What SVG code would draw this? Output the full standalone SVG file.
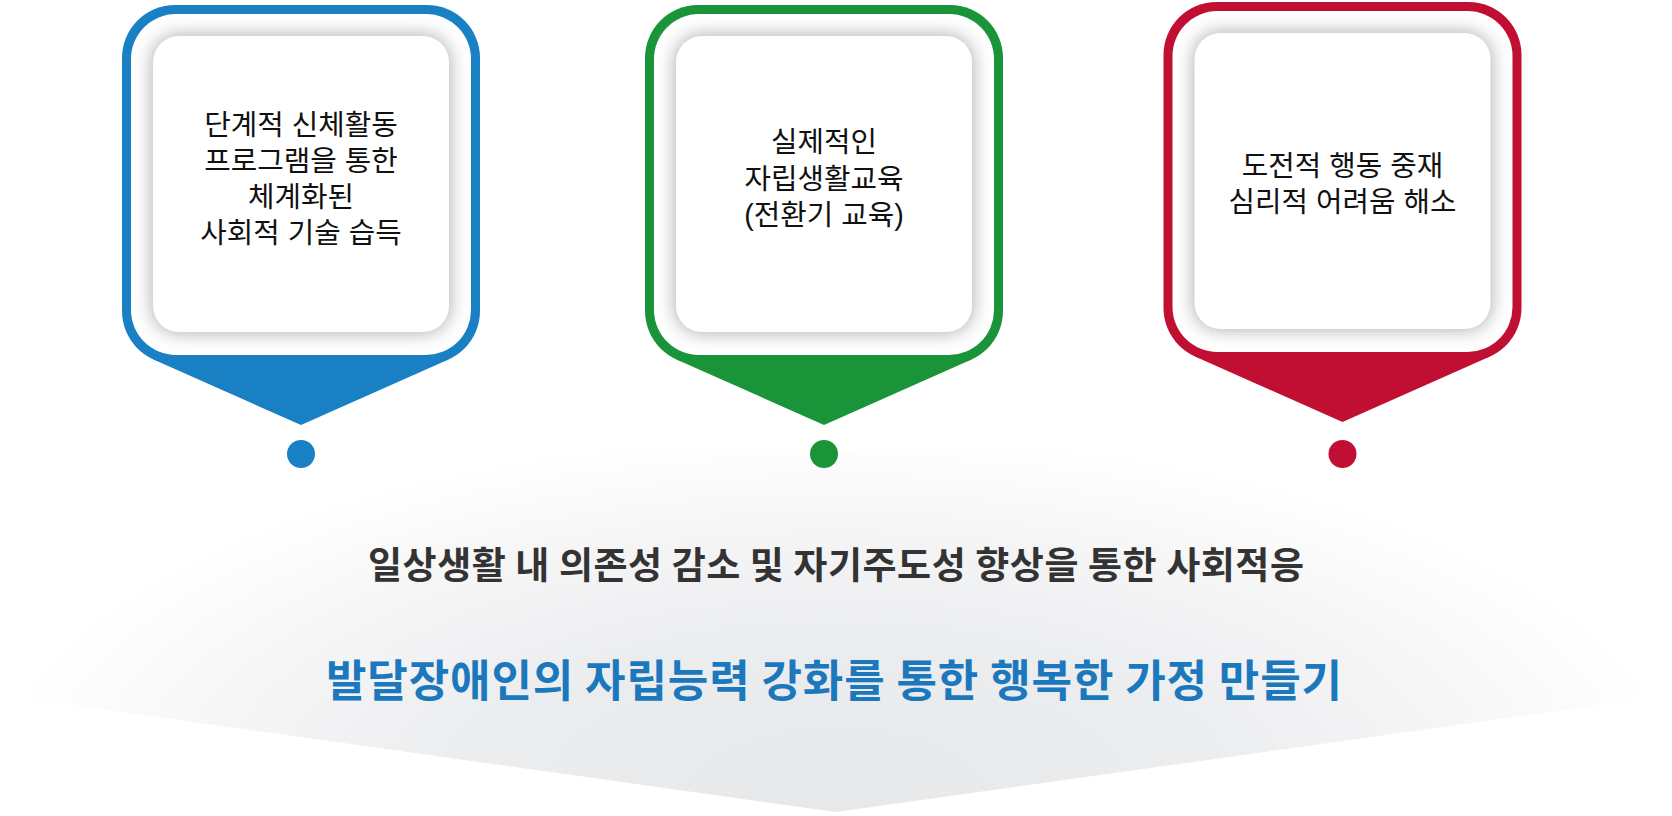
<svg xmlns="http://www.w3.org/2000/svg" width="1672" height="816" viewBox="0 0 1672 816">
  <defs>
    <style>
      .card-text { font-family: 'Liberation Sans', 'Noto Sans CJK KR', sans-serif; font-size: 28.8px; fill: #111111; text-anchor: middle; }
      .sub-text { font-family: 'Noto Sans CJK KR', 'Noto Sans', sans-serif; font-size: 37px; font-weight: 700; fill: #333333; text-anchor: middle; }
      .main-text { font-family: 'Noto Sans CJK KR', 'Noto Sans', sans-serif; font-size: 44px; font-weight: 700; fill: #1c78bd; text-anchor: middle; }
      .interior { fill: #ffffff; }
      .inner { fill: #ffffff; }
      .shadow { fill: #b5b5b5; filter: url(#blur); }
      .blue { fill: #1a80c4; }
      .green { fill: #1a9439; }
      .red { fill: #c10f33; }
    </style>
    <filter id="blur" x="-20%" y="-20%" width="140%" height="140%">
      <feGaussianBlur stdDeviation="8.5"/>
    </filter>
    <radialGradient id="bgGrad" gradientUnits="userSpaceOnUse" cx="836" cy="790" r="850" gradientTransform="translate(836 790) scale(1 0.42) translate(-836 -790)">
      <stop offset="0" stop-color="#e7e8ea"/>
      <stop offset="0.45" stop-color="#ecedef"/>
      <stop offset="0.75" stop-color="#f6f6f7"/>
      <stop offset="1" stop-color="#ffffff"/>
    </radialGradient>
  </defs>

  <rect width="1672" height="816" fill="#ffffff"/>

  <g id="background">
    <path d="M 15 697 L 836 812 L 1657 697 L 1657 600 Q 1657 450 1450 450 L 222 450 Q 15 450 15 600 Z" fill="url(#bgGrad)"/>
  </g>

  <g id="connectors"></g>

  <g id="node-1" transform="translate(301 5)">
    <rect class="blue" x="-179" y="0" width="358" height="359" rx="53"/>
    <polygon class="blue" points="-147.5,354.5 -126,300 126,300 147.5,354.5 0,420"/>
    <rect class="interior" x="-170" y="9" width="340" height="341" rx="45"/>
    <rect class="shadow" x="-150" y="29" width="300" height="300" rx="28"/>
    <rect class="inner" x="-148" y="31" width="296" height="296" rx="26"/>
    <text class="card-text" x="0" y="130">단계적 신체활동</text>
    <text class="card-text" x="0" y="166">프로그램을 통한</text>
    <text class="card-text" x="0" y="202">체계화된</text>
    <text class="card-text" x="0" y="238">사회적 기술 습득</text>
    <circle class="blue" cx="0" cy="449" r="14"/>
  </g>

  <g id="node-2" transform="translate(824 5)">
    <rect class="green" x="-179" y="0" width="358" height="359" rx="53"/>
    <polygon class="green" points="-147.5,354.5 -126,300 126,300 147.5,354.5 0,420"/>
    <rect class="interior" x="-170" y="9" width="340" height="341" rx="45"/>
    <rect class="shadow" x="-150" y="29" width="300" height="300" rx="28"/>
    <rect class="inner" x="-148" y="31" width="296" height="296" rx="26"/>
    <text class="card-text" x="0" y="147">실제적인</text>
    <text class="card-text" x="0" y="184">자립생활교육</text>
    <text class="card-text" x="0" y="220">(전환기 교육)</text>
    <circle class="green" cx="0" cy="449" r="14"/>
  </g>

  <g id="node-3" transform="translate(1342.5 2)">
    <rect class="red" x="-179" y="0" width="358" height="359" rx="53"/>
    <polygon class="red" points="-147.5,354.5 -126,300 126,300 147.5,354.5 0,420"/>
    <rect class="interior" x="-170" y="9" width="340" height="341" rx="45"/>
    <rect class="shadow" x="-150" y="29" width="300" height="300" rx="28"/>
    <rect class="inner" x="-148" y="31" width="296" height="296" rx="26"/>
    <text class="card-text" x="0" y="174">도전적 행동 중재</text>
    <text class="card-text" x="0" y="210">심리적 어려움 해소</text>
    <circle class="red" cx="0" cy="452" r="14"/>
  </g>

  <g id="summary">
    <text class="sub-text" x="836" y="579" textLength="936" lengthAdjust="spacing">일상생활 내 의존성 감소 및 자기주도성 향상을 통한 사회적응</text>
    <text class="main-text" x="834" y="697" textLength="1016" lengthAdjust="spacing">발달장애인의 자립능력 강화를 통한 행복한 가정 만들기</text>
  </g>
</svg>
